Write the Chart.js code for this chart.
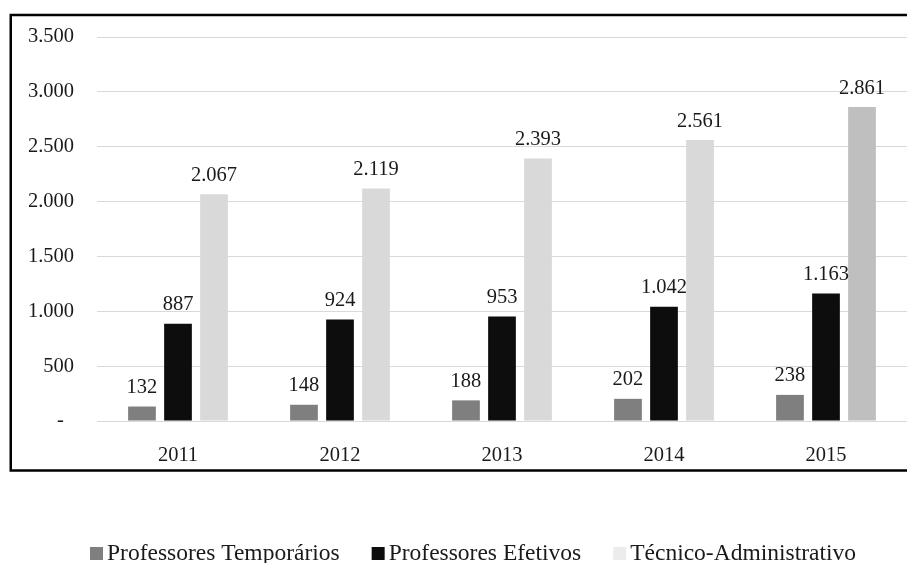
<!DOCTYPE html>
<html>
<head>
<meta charset="utf-8">
<script src="https://cdn.jsdelivr.net/npm/chart.js@4.4.0/dist/chart.umd.min.js"></script>
<style>
  html, body { margin: 0; padding: 0; background: #fff; overflow: hidden; }
  #wrap { width: 907px; height: 563px; position: relative; }
</style>
</head>
<body>
<div id="wrap"><canvas id="c" width="907" height="563"></canvas></div>
<script>
// Staff counts per year
const years = ['2011', '2012', '2013', '2014', '2015'];
const seriesNames = ['Professores Temporários', 'Professores Efetivos', 'Técnico-Administrativo'];
const temporarios = [132, 148, 188, 202, 238];
const efetivos = [887, 924, 953, 1042, 1163];
const tecnicos = [2067, 2119, 2393, 2561, 2861];
const yMax = 3500;
const yStep = 500;

const FONT = "'Liberation Serif', 'Times New Roman', serif";
const TEXT = '#1a1a1a';

// thousands separator in pt-BR style
function fmt(v) {
  return String(v).replace(/\B(?=(\d{3})+(?!\d))/g, '.');
}

const barColors = ['#7f7f7f', '#0d0d0d', '#d9d9d9'];
const tecnicoColors = tecnicos.map((v, i) => i === tecnicos.length - 1 ? '#bfbfbf' : '#d9d9d9');
const legendColors = ['#7f7f7f', '#0d0d0d', '#ececec'];

const frame = {
  id: 'frame',
  beforeDraw(chart) {
    const ctx = chart.ctx;
    ctx.save();
    ctx.fillStyle = '#fff';
    ctx.fillRect(0, 0, chart.width, chart.height);
    ctx.restore();
  },
  afterDraw(chart) {
    const ctx = chart.ctx;
    ctx.save();
    ctx.strokeStyle = '#000';
    ctx.lineWidth = 2.5;
    ctx.strokeRect(10.75, 15, 930, 455.5);
    ctx.restore();
  }
};

const valueLabels = {
  id: 'valueLabels',
  afterDatasetsDraw(chart) {
    const ctx = chart.ctx;
    ctx.save();
    ctx.font = '20.5px ' + FONT;
    ctx.fillStyle = TEXT;
    ctx.textAlign = 'center';
    ctx.textBaseline = 'alphabetic';
    chart.data.datasets.forEach((ds, di) => {
      const meta = chart.getDatasetMeta(di);
      meta.data.forEach((bar, i) => {
        ctx.fillText(fmt(ds.data[i]), bar.x, bar.y - 13.5);
      });
    });
    ctx.restore();
  }
};

const bottomLegend = {
  id: 'bottomLegend',
  afterDraw(chart) {
    const ctx = chart.ctx;
    ctx.save();
    ctx.font = '23.5px ' + FONT;
    ctx.fillStyle = TEXT;
    ctx.textBaseline = 'alphabetic';
    const box = 13, gapBox = 4, gapItem = 32;
    const items = chart.data.datasets.map((ds, i) => ({
      text: ds.label, color: legendColors[i], w: ctx.measureText(ds.label).width
    }));
    const total = items.reduce((s, it) => s + box + gapBox + it.w, 0) + gapItem * (items.length - 1);
    let x = 473 - total / 2;
    const baseline = 560;
    items.forEach(it => {
      ctx.fillStyle = it.color;
      ctx.fillRect(x, 547, box, box);
      ctx.fillStyle = TEXT;
      ctx.fillText(it.text, x + box + gapBox, baseline);
      x += box + gapBox + it.w + gapItem;
    });
    ctx.restore();
  }
};

new Chart(document.getElementById('c'), {
  type: 'bar',
  data: {
    labels: years,
    datasets: [
      { label: seriesNames[0], data: temporarios, backgroundColor: barColors[0] },
      { label: seriesNames[1], data: efetivos, backgroundColor: barColors[1] },
      { label: seriesNames[2], data: tecnicos, backgroundColor: tecnicoColors }
    ]
  },
  options: {
    responsive: false,
    animation: false,
    devicePixelRatio: 1,
    categoryPercentage: 0.667,
    barPercentage: 0.77,
    layout: { padding: { left: 0, right: 0, top: 37, bottom: 92 } },
    plugins: {
      legend: { display: false },
      tooltip: { enabled: false }
    },
    scales: {
      x: {
        grid: { display: false },
        border: { display: false },
        ticks: { color: TEXT, font: { family: FONT, size: 20.5 }, padding: 14 },
        afterFit(s) { s.height = 50; }
      },
      y: {
        min: 0,
        max: yMax,
        grid: { color: '#d9d9d9', lineWidth: 1, drawTicks: false },
        border: { display: false },
        ticks: {
          stepSize: yStep,
          color: TEXT,
          font: { family: FONT, size: 20.5 },
          padding: 23,
          callback: v => v === 0 ? '-  ' : fmt(v)
        },
        afterFit(s) { s.width = 97; }
      }
    }
  },
  plugins: [frame, valueLabels, bottomLegend]
});
</script>
</body>
</html>
